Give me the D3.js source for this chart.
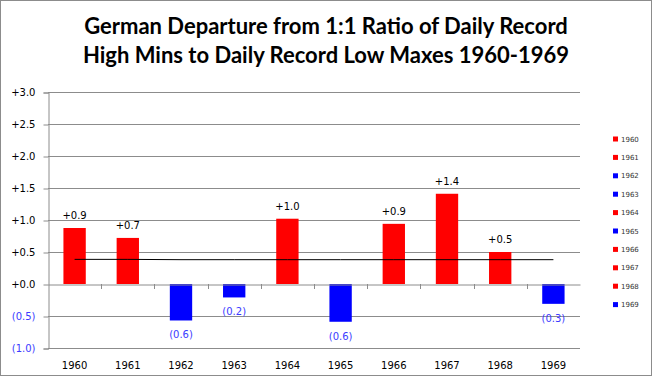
<!DOCTYPE html>
<html>
<head>
<meta charset="utf-8">
<script src="https://cdn.jsdelivr.net/npm/d3@7"></script>
<style>
  body { margin: 0; background: #fff; }
  svg { display: block; }
</style>
</head>
<body>
<div id="chart"></div>
<script>
const years = ["1960", "1961", "1962", "1963", "1964", "1965", "1966", "1967", "1968", "1969"];
const departures = [0.875, 0.72, -0.57, -0.21, 1.02, -0.59, 0.94, 1.41, 0.5, -0.31];
const meanLine = [0.385, 0.385, 0.38, 0.38, 0.38, 0.38, 0.38, 0.38, 0.38, 0.38];
const yTicks = [-1.0, -0.5, 0, 0.5, 1.0, 1.5, 2.0, 2.5, 3.0];
const titleLines = ["German Departure from 1:1 Ratio of Daily Record", "High Mins to Daily Record Low Maxes 1960-1969"];

const width = 653, height = 376;
const plotLeft = 48, plotRight = 580, plotTop = 92, plotBottom = 348;
const red = "#ff0000", blue = "#0000ff", negText = "#3b3bff";

const fmt = v => v < 0 ? `(${Math.abs(v).toFixed(1)})` : `+${v.toFixed(1)}`;

var svg = d3.select("#chart").append("svg")
    .attr("width", width)
    .attr("height", height);

svg.append("rect")
    .attr("x", 0.5).attr("y", 0.5)
    .attr("width", width - 2).attr("height", height - 1)
    .attr("fill", "#fff")
    .attr("stroke", "#8c8c8c");

svg.selectAll(".title")
    .data(titleLines)
    .enter().append("text")
    .attr("class", "title")
    .attr("x", 326)
    .attr("y", (d, i) => 34 + i * 28.5)
    .attr("text-anchor", "middle")
    .style("font-family", "Lato, 'Open Sans', sans-serif")
    .style("font-weight", "bold")
    .style("font-size", "22px")
    .attr("fill", "#000")
    .text(d => d);

const x = d3.scaleBand()
    .domain(years)
    .range([plotLeft, plotRight])
    .paddingInner(0.58)
    .paddingOuter(0.29);

const xc = d3.scaleBand().domain(years).range([plotLeft, plotRight]);

const y = d3.scaleLinear()
    .domain([-1, 3])
    .range([plotBottom, plotTop]);

// gridlines
svg.append("g")
    .selectAll("line")
    .data(yTicks.filter(t => t !== 0))
    .enter().append("line")
    .attr("x1", plotLeft).attr("x2", plotRight)
    .attr("y1", d => Math.round(y(d)) + 0.5)
    .attr("y2", d => Math.round(y(d)) + 0.5)
    .attr("stroke", "#8c8c8c");

// y axis
const yAxis = svg.append("g")
    .attr("transform", `translate(${plotLeft + 0.5},0.5)`)
    .call(d3.axisLeft(y).tickValues(yTicks).tickSize(5).tickPadding(8).tickFormat(fmt));
yAxis.select(".domain").attr("stroke", "#8c8c8c");
yAxis.selectAll(".tick line").attr("stroke", "#8c8c8c");
yAxis.selectAll(".tick text")
    .style("font-family", "'DejaVu Sans', Verdana, sans-serif")
    .style("font-size", "10px")
    .attr("fill", d => d < 0 ? negText : "#000");

// bars
svg.selectAll(".bar")
    .data(departures)
    .enter().append("rect")
    .attr("class", "bar")
    .attr("x", (d, i) => x(years[i]))
    .attr("width", x.bandwidth())
    .attr("y", d => y(Math.max(0, d)))
    .attr("height", d => Math.abs(y(d) - y(0)))
    .attr("fill", d => d < 0 ? blue : red);

// x axis at zero
const xAxis = svg.append("g")
    .attr("transform", `translate(0,${Math.round(y(0)) + 0.5})`)
    .call(d3.axisBottom(xc).tickSize(0).tickFormat(""));
xAxis.select(".domain").attr("stroke", "#8c8c8c");
svg.append("g")
    .selectAll("line")
    .data(years.slice(1))
    .enter().append("line")
    .attr("x1", d => Math.round(xc(d)) + 0.5)
    .attr("x2", d => Math.round(xc(d)) + 0.5)
    .attr("y1", y(0))
    .attr("y2", y(0) + 5)
    .attr("stroke", "#8c8c8c");

// year labels
svg.selectAll(".year")
    .data(years)
    .enter().append("text")
    .attr("class", "year")
    .attr("x", d => xc(d) + xc.bandwidth() / 2)
    .attr("y", 369)
    .attr("text-anchor", "middle")
    .style("font-family", "'DejaVu Sans', Verdana, sans-serif")
    .style("font-size", "10px")
    .text(d => d);

// mean line
const line = d3.line()
    .x((d, i) => xc(years[i]) + xc.bandwidth() / 2)
    .y(d => y(d));
svg.append("path")
    .datum(meanLine)
    .attr("d", line)
    .attr("fill", "none")
    .attr("stroke", "#000")
    .attr("stroke-width", 1);

// data labels
svg.selectAll(".val")
    .data(departures)
    .enter().append("text")
    .attr("class", "val")
    .attr("x", (d, i) => xc(years[i]) + xc.bandwidth() / 2)
    .attr("y", d => d < 0 ? y(d) + 18 : y(d) - 9)
    .attr("text-anchor", "middle")
    .style("font-family", "'DejaVu Sans', Verdana, sans-serif")
    .style("font-size", "10px")
    .attr("fill", d => d < 0 ? negText : "#000")
    .text(fmt);

// legend
const legend = svg.append("g").attr("transform", "translate(613,139)");
const item = legend.selectAll("g")
    .data(years)
    .enter().append("g")
    .attr("transform", (d, i) => `translate(0,${i * 18.4})`);
item.append("rect")
    .attr("x", 0).attr("y", -2.5)
    .attr("width", 5).attr("height", 5)
    .attr("fill", (d, i) => departures[i] < 0 ? blue : red);
item.append("text")
    .attr("x", 8).attr("y", 2.5)
    .style("font-family", "'DejaVu Sans', Tahoma, sans-serif")
    .style("font-size", "7px")
    .attr("fill", "#333")
    .text(d => d);
</script>
</body>
</html>
